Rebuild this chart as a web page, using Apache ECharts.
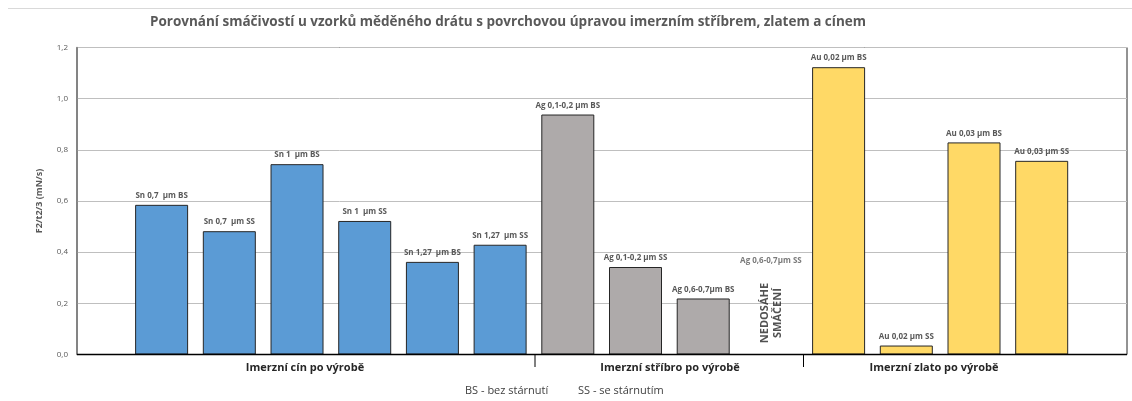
<!DOCTYPE html>
<html>
<head>
<meta charset="utf-8">
<script src="https://cdn.jsdelivr.net/npm/echarts@6/dist/echarts.min.js"></script>
<style>
  html, body { margin: 0; padding: 0; background: #fff; }
  #chart { width: 1132px; height: 401px; }
</style>
</head>
<body>
<div id="chart"></div>
<script>
// Sample names (bar captions), one per slot
const sampleNames = [
  'Sn 0,7  µm BS', 'Sn 0,7  µm SS', 'Sn 1  µm BS', 'Sn 1  µm SS',
  'Sn 1,27  µm BS', 'Sn 1,27  µm SS',
  'Ag 0,1-0,2 µm BS', 'Ag 0,1-0,2 µm SS', 'Ag 0,6-0,7µm BS', 'Ag 0,6-0,7µm SS',
  'Au 0,02 µm BS', 'Au 0,02 µm SS', 'Au 0,03 µm BS', 'Au 0,03 µm SS'
];
// F2/t2/3 values (mN/s); null = no wetting reached
const wettingValues = [
  0.585, 0.482, 0.744, 0.522, 0.362, 0.429,
  0.938, 0.342, 0.219, null,
  1.123, 0.035, 0.829, 0.757
];
// Surface finish group of each slot
const sampleGroup = ['Sn','Sn','Sn','Sn','Sn','Sn','Ag','Ag','Ag','Ag','Au','Au','Au','Au'];
const groupColors = { Sn: '#5B9BD5', Ag: '#AEAAAA', Au: '#FFD966' };
const groupLabels = ['Imerzní cín po výrobě', 'Imerzní stříbro po výrobě', 'Imerzní zlato po výrobě'];
const yTicks = [0, 0.2, 0.4, 0.6, 0.8, 1.0, 1.2];
// Note for the sample without a bar: caption height and note height (axis units)
const missingSample = { index: 9, captionAt: 0.365, noteAt: 0.162, note: 'NEDOSÁHE\nSMÁČENÍ' };

const chart = echarts.init(document.getElementById('chart'), null, { renderer: 'canvas' });

const barData = wettingValues.map((v, i) => v === null ? null : ({
  value: [i, v],
  name: sampleNames[i],
  itemStyle: { color: groupColors[sampleGroup[i]] }
})).filter(d => d !== null);

const labelFont = { fontFamily: 'Open Sans', fontSize: 8, fontWeight: 'bold', color: '#595959' };

chart.setOption({
  animation: false,
  backgroundColor: '#ffffff',
  title: {
    text: 'Porovnání smáčivostí u vzorků měděného drátu s povrchovou úpravou imerzním stříbrem, zlatem a cínem',
    left: 503, top: 10, textAlign: 'center',
    textStyle: { fontFamily: 'Open Sans', fontSize: 13.5, fontWeight: 'bold', color: '#595959' }
  },
  grid: {
    left: 77, top: 47.5, width: 1050, height: 307,
    show: true, borderColor: '#262626', borderWidth: 1, backgroundColor: '#fff'
  },
  xAxis: {
    type: 'value', min: -1.25, max: 14.26,
    axisLine: { show: false }, axisTick: { show: false },
    axisLabel: { show: false }, splitLine: { show: false }
  },
  yAxis: {
    type: 'value', min: 0, max: 1.2, interval: 0.2,
    name: 'F2/t2/3 (mN/s)', nameLocation: 'middle', nameGap: 33, nameRotate: 90,
    nameTextStyle: { fontFamily: 'Open Sans', fontSize: 9, fontWeight: 'bold', color: '#595959' },
    axisLine: { show: true, onZero: false, lineStyle: { color: '#7f7f7f', width: 1.5 } },
    axisTick: { show: false },
    axisLabel: {
      fontFamily: 'Open Sans', fontSize: 8, color: '#595959', margin: 9,
      formatter: v => yTicks.includes(+v.toFixed(1)) ? v.toFixed(1).replace('.', ',') : ''
    },
    splitLine: { show: true, lineStyle: { color: '#bfbfbf', width: 1 } }
  },
  series: [
    {
      type: 'bar',
      barWidth: 53,
      data: barData,
      itemStyle: { borderColor: '#262626', borderWidth: 1 },
      label: {
        show: true, position: 'top', distance: 5,
        formatter: p => p.name,
        ...labelFont
      },
      z: 3
    },
    {
      type: 'scatter',
      symbolSize: 0,
      silent: true,
      data: [
        { value: [missingSample.index, missingSample.captionAt], name: sampleNames[missingSample.index],
          label: { show: true, position: 'inside', formatter: p => p.name, ...labelFont } },
        { value: [missingSample.index, missingSample.noteAt], name: missingSample.note,
          label: { show: true, position: 'inside', rotate: 90, formatter: p => p.name,
                   fontFamily: 'Open Sans', fontSize: 11, fontWeight: 'bold', color: '#262626',
                   lineHeight: 13, align: 'center' } }
      ],
      z: 4
    }
  ],
  graphic: [
    { type: 'line', shape: { x1: 8, y1: 8.5, x2: 1132, y2: 8.5 }, style: { stroke: '#d9d9d9', lineWidth: 1 } },
    { type: 'line', shape: { x1: 77, y1: 354.5, x2: 1127, y2: 354.5 }, style: { stroke: '#000', lineWidth: 1.5 }, z: 10 },
    { type: 'line', shape: { x1: 535, y1: 355, x2: 535, y2: 367 }, style: { stroke: '#000', lineWidth: 1 } },
    { type: 'line', shape: { x1: 803.5, y1: 355, x2: 803.5, y2: 367 }, style: { stroke: '#000', lineWidth: 1 } },
    { type: 'text', x: 305, y: 368, style: { text: groupLabels[0], textAlign: 'center', textVerticalAlign: 'middle',
      fontFamily: 'Open Sans', fontSize: 11, fontWeight: 'bold', fill: '#262626' } },
    { type: 'text', x: 670, y: 368, style: { text: groupLabels[1], textAlign: 'center', textVerticalAlign: 'middle',
      fontFamily: 'Open Sans', fontSize: 11, fontWeight: 'bold', fill: '#262626' } },
    { type: 'text', x: 934, y: 368, style: { text: groupLabels[2], textAlign: 'center', textVerticalAlign: 'middle',
      fontFamily: 'Open Sans', fontSize: 11, fontWeight: 'bold', fill: '#262626' } },
    { type: 'text', x: 465, y: 391, style: { text: 'BS - bez stárnutí', textVerticalAlign: 'middle',
      fontFamily: 'Open Sans', fontSize: 11, fill: '#404040' } },
    { type: 'text', x: 578, y: 391, style: { text: 'SS - se stárnutím', textVerticalAlign: 'middle',
      fontFamily: 'Open Sans', fontSize: 11, fill: '#404040' } }
  ]
});
</script>
</body>
</html>
